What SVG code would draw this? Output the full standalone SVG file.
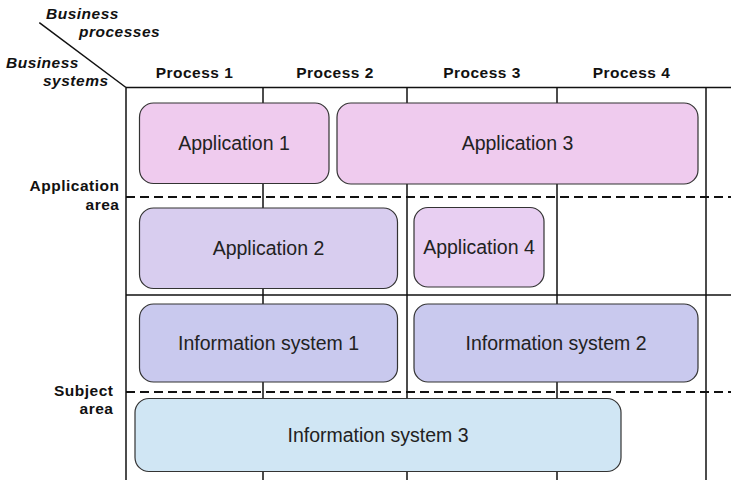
<svg xmlns="http://www.w3.org/2000/svg" width="731" height="480" viewBox="0 0 731 480">
<style>
.grid{stroke:#111;stroke-width:1.5;fill:none}
.dash{stroke:#111;stroke-width:2;fill:none;stroke-dasharray:9 5}
.box{stroke:#333;stroke-width:1.2}
.lbl{font-family:"Liberation Sans",Arial,sans-serif;font-size:19.5px;fill:#222;text-anchor:middle}
.hdr{font-family:"Liberation Sans",Arial,sans-serif;font-size:15.5px;font-weight:bold;fill:#111;letter-spacing:0.5px}
.ital{font-style:italic}
</style>
<rect width="731" height="480" fill="#fff"/>
<g id="grid">
<line class="grid" x1="39.3" y1="22.7" x2="126" y2="87.5"/>
<line class="grid" x1="126" y1="87.5" x2="731" y2="87.5"/>
<line class="grid" x1="126" y1="87.5" x2="126" y2="480"/>
<line class="grid" x1="263" y1="87.5" x2="263" y2="480"/>
<line class="grid" x1="407" y1="87.5" x2="407" y2="480"/>
<line class="grid" x1="557" y1="87.5" x2="557" y2="480"/>
<line class="grid" x1="706" y1="87.5" x2="706" y2="480"/>
<line class="grid" x1="126" y1="295" x2="731" y2="295"/>
<line class="dash" x1="126" y1="197" x2="731" y2="197"/>
<line class="dash" x1="126" y1="392" x2="731" y2="392"/>
</g>
<g id="headers">
<text class="hdr ital" x="46" y="18.5">Business</text>
<text class="hdr ital" x="79" y="37">processes</text>
<text class="hdr ital" x="6" y="68">Business</text>
<text class="hdr ital" x="43" y="86">systems</text>
<text class="hdr" x="194.5" y="78" text-anchor="middle">Process 1</text>
<text class="hdr" x="335" y="78" text-anchor="middle">Process 2</text>
<text class="hdr" x="482" y="78" text-anchor="middle">Process 3</text>
<text class="hdr" x="631.5" y="78" text-anchor="middle">Process 4</text>
<text class="hdr" x="119.5" y="191" text-anchor="end">Application</text>
<text class="hdr" x="119.5" y="209.5" text-anchor="end">area</text>
<text class="hdr" x="113.5" y="395.5" text-anchor="end">Subject</text>
<text class="hdr" x="113.5" y="413.5" text-anchor="end">area</text>
</g>
<g id="app1">
<rect class="box" x="139.5" y="103" width="189.5" height="80.5" rx="14" fill="#efcbee"/>
<text class="lbl" x="234" y="150">Application 1</text>
</g>
<g id="app3">
<rect class="box" x="337" y="103" width="361" height="81" rx="14" fill="#efcbee"/>
<text class="lbl" x="517.5" y="150">Application 3</text>
</g>
<g id="app2">
<rect class="box" x="139.5" y="208" width="258" height="80.5" rx="14" fill="#d8cdef"/>
<text class="lbl" x="268.5" y="255">Application 2</text>
</g>
<g id="app4">
<rect class="box" x="414" y="207.5" width="130" height="79.5" rx="14" fill="#e8cff2"/>
<text class="lbl" x="479" y="254">Application 4</text>
</g>
<g id="is1">
<rect class="box" x="139.5" y="304" width="258" height="78" rx="14" fill="#c9c9ee"/>
<text class="lbl" x="268.5" y="350">Information system 1</text>
</g>
<g id="is2">
<rect class="box" x="414" y="304" width="284" height="78" rx="14" fill="#c9c9ee"/>
<text class="lbl" x="556" y="350">Information system 2</text>
</g>
<g id="is3">
<rect class="box" x="135" y="398.5" width="486" height="73" rx="14" fill="#d0e6f4"/>
<text class="lbl" x="378" y="442">Information system 3</text>
</g>
</svg>
